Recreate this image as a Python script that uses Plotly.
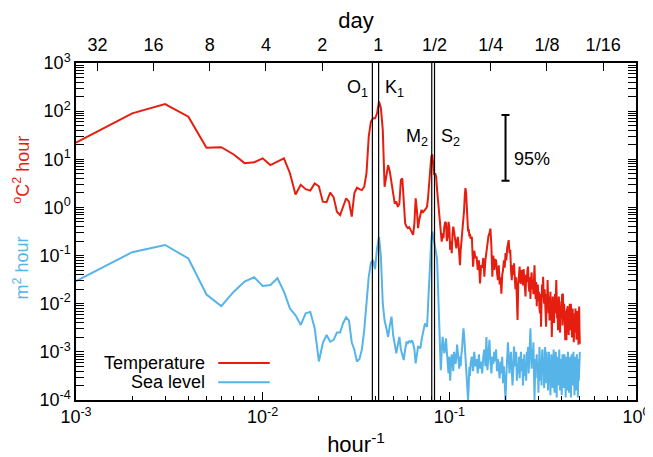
import math
import plotly.graph_objects as go

# ---------------- data ----------------
# frequency index k (cycles per 1000 hours): every index up to 130, then every other one
k_dense = list(range(1, 131))
k_sparse = list(range(132, 501, 2))
freq = [k / 1000 for k in k_dense + k_sparse]   # hour^-1

# log10 of temperature spectrum (degC^2 hour)
temp_log10 = [
    1.345, 1.955, 2.148, 1.885, 1.24, 1.25, 1.10, 0.92, 0.94, 1.02,
    0.88, 0.95, 1.02, 0.71, 0.27, 0.47, 0.38, 0.35, 0.50, 0.44,
    0.12, 0.11, 0.31, 0.21, -0.09, -0.16, 0.02, 0.19, 0.12, -0.19,
    0.30, 0.41, 0.38, 0.36, 0.43, 0.71, 1.47, 1.78, 1.85, 1.85,
    1.95, 2.20, 2.06, 1.61, 0.43, 0.71, 0.88, 0.74, 0.50, 0.29,
    0.08, 0.12, 0.01, 0.08, 0.57, 0.60, 0.05, -0.33, -0.40, -0.43,
    -0.41, -0.47, -0.54, -0.57, -0.33, 0.19, -0.05, -0.43, -0.26, -0.12,
    -0.05, -0.11, -0.09, -0.05, -0.02, 0.02, 0.22, 0.57, 0.78, 1.05,
    1.10, 0.81, 0.67, 0.71, 0.64, 0.36, 0.15, 0.05, -0.19, -0.47,
    -0.71, -0.54, -0.64, -0.40, -0.30, -0.33, -0.70, -0.61, -0.30, -0.40,
    -0.88, -0.70, -0.95, -0.55, -0.40, -0.50, -0.65, -0.80, -0.85, -0.70,
    -0.61, -0.75, -0.95, -1.20, -0.90, -0.72, -0.60, -0.55, -0.35, -0.05,
    0.25, 0.40, 0.30, 0.00, -0.30, -0.50, -0.45, -0.60, -0.55, -0.65,
    # k = 132 ... 500 step 2
    -0.61, -1.23, -0.90, -1.05, -1.02, -1.30, -1.10, -1.58, -1.20, -1.25,
    -1.05, -1.44, -1.10, -0.90, -0.75, -0.60, -0.54, -0.44, -0.80, -1.44,
    -1.00, -1.30, -1.09, -1.10, -1.35, -1.51, -1.20, -1.60, -1.45, -1.79,
    -1.40, -1.30, -1.10, -1.25, -0.95, -1.10, -0.85, -0.75, -0.68, -0.95,
    -0.88, -1.30, -1.51, -1.20, -1.40, -1.16, -1.35, -1.70, -1.45, -1.95,
    -2.34, -1.60, -1.40, -1.23, -1.55, -1.58, -1.30, -1.45, -1.62, -1.28,
    -1.50, -1.70, -1.85, -1.40, -1.55, -1.30, -1.23, -1.60, -1.75, -1.45,
    -1.90, -1.50, -1.35, -1.70, -1.55, -1.80, -1.40, -1.20, -1.65, -1.90,
    -1.55, -2.05, -1.70, -1.60, -1.95, -1.75, -2.10, -2.20, -1.80, -2.48,
    -1.90, -1.60, -1.75, -1.44, -1.85, -2.00, -1.70, -2.15, -1.95, -2.48,
    -1.80, -2.05, -1.51, -1.90, -2.20, -1.85, -2.35, -2.05, -1.75, -2.30,
    -2.10, -2.69, -2.00, -1.85, -2.25, -1.95, -2.40, -2.10, -1.80, -2.20,
    -1.70, -1.51, -1.90, -2.30, -2.00, -2.55, -2.15, -1.85, -2.40, -2.10,
    -2.60, -2.05, -2.30, -1.95, -2.20, -1.80, -2.45, -1.79, -2.10, -2.35,
    -2.00, -2.60, -2.25, -2.76, -2.15, -2.45, -2.76, -2.10, -2.35, -2.05,
    -2.50, -2.25, -2.65, -2.15, -2.40, -2.00, -2.55, -2.30, -2.00, -2.45,
    -2.20, -2.70, -2.35, -2.10, -2.55, -2.25, -2.80, -2.40, -2.69, -2.20,
    -2.50, -2.10, -2.60, -2.30, -2.75, -2.25, -2.50, -2.15, -2.65, -2.35,
    -2.85, -2.40, -2.06, -2.55, -2.83,
]

# log10 of sea-level spectrum (m^2 hour)
sea_log10 = [
    -1.53, -0.93, -0.78, -1.06, -1.81, -2.05, -1.75, -1.54, -1.45, -1.63,
    -1.61, -1.47, -1.75, -2.10, -2.24, -2.44, -2.20, -2.17, -2.51, -3.20,
    -2.82, -2.65, -2.79, -2.75, -2.60, -2.60, -2.40, -2.28, -2.35, -2.80,
    -2.96, -3.20, -3.15, -2.95, -2.55, -2.00, -1.44, -1.15, -1.09, -1.28,
    -0.85, -0.61, -1.02, -2.00, -2.35, -2.51, -2.69, -2.45, -2.27, -2.65,
    -2.90, -3.03, -2.85, -2.69, -2.95, -3.10, -3.17, -2.95, -2.79, -2.82,
    -2.78, -2.80, -2.76, -2.82, -2.95, -3.24, -3.00, -2.89, -2.90, -2.93,
    -2.75, -2.62, -2.50, -2.41, -2.45, -2.48, -2.00, -1.44, -0.95, -0.70,
    -0.50, -0.60, -0.75, -0.85, -0.95, -1.09, -1.80, -2.41, -3.00, -3.38,
    -3.00, -2.69, -2.85, -3.03, -2.90, -2.72, -3.00, -3.20, -3.45, -3.10,
    -3.60, -3.30, -3.05, -3.20, -3.40, -3.00, -3.15, -3.25, -3.10, -2.85,
    -3.00, -3.20, -3.35, -3.10, -3.30, -3.05, -2.95, -2.70, -2.51, -2.65,
    -2.89, -3.10, -3.30, -3.60, -3.85, -4.00, -3.70, -3.31, -3.50, -3.25,
    # k = 132 ... 500 step 2
    -3.10, -3.40, -3.00, -3.30, -3.15, -3.45, -3.05, -3.35, -3.20, -3.45,
    -3.10, -2.95, -3.30, -2.69, -3.38, -3.00, -2.75, -3.20, -3.45, -3.10,
    -3.25, -3.00, -3.20, -2.95, -3.40, -3.15, -3.30, -3.55, -3.20, -3.45,
    -3.10, -3.65, -3.30, -3.80, -4.00, -3.50, -3.20, -2.80, -3.10, -3.45,
    -3.15, -3.00, -3.35, -3.70, -3.40, -2.89, -3.15, -3.30, -3.00, -3.60,
    -3.25, -3.45, -3.10, -3.55, -3.20, -3.00, -3.40, -3.15, -3.70, -3.35,
    -3.05, -3.50, -3.25, -3.60, -3.00, -3.30, -2.90, -3.45, -3.10, -2.80,
    -2.51, -3.05, -3.35, -2.95, -3.20, -2.80, -3.50, -4.00, -3.40, -3.15,
    -3.30, -3.05, -3.55, -3.25, -3.85, -3.40, -2.90, -3.20, -3.60, -3.30,
    -3.70, -3.00, -2.95, -3.45, -3.25, -3.75, -3.10, -2.90, -3.35, -3.65,
    -3.00, -3.40, -3.15, -3.80, -3.30, -3.00, -3.55, -3.20, -3.90, -3.35,
    -3.05, -3.45, -3.10, -3.75, -3.30, -2.95, -3.40, -3.85, -3.25, -3.55,
    -3.00, -3.35, -3.95, -3.20, -3.50, -3.10, -3.70, -3.30, -2.95, -3.45,
    -3.80, -3.25, -3.55, -3.15, -3.90, -3.35, -3.05, -3.50, -3.20, -3.75,
    -3.40, -3.05, -3.60, -3.30, -3.95, -3.35, -3.10, -3.50, -3.80, -3.25,
    -3.00, -3.45, -3.15, -3.85, -3.30, -3.60, -3.10, -3.40, -3.95, -3.30,
    -3.05, -3.50, -3.20, -3.70, -3.35, -3.00, -3.55, -3.25, -3.90, -3.40,
    -3.10, -3.60, -3.30, -3.80, -3.35, -3.05, -3.50, -3.20, -3.95, -3.40,
    -3.15, -3.60, -3.25, -3.45, -3.00,
]

temp = [10 ** v for v in temp_log10]
sea = [10 ** v for v in sea_log10]

# tidal constituents (hour^-1)
tide_names = ["O<sub>1</sub>", "K<sub>1</sub>", "M<sub>2</sub>", "S<sub>2</sub>"]
tide_freq = [0.0387, 0.0418, 0.0805, 0.0833]

# top axis: periods in days
day_values = [32, 16, 8, 4, 2, 1, 0.5, 0.25, 0.125, 0.0625]
day_labels = ["32", "16", "8", "4", "2", "1", "1/2", "1/4", "1/8", "1/16"]

# axis decades
x_exps = [-3, -2, -1, 0]
y_exps = [-4, -3, -2, -1, 0, 1, 2, 3]

# 95% confidence bar
ci_freq = 0.2
ci_low, ci_high = 3.6, 83.0

RED = "#e51e10"
BLUE = "#56b4e9"
FONT = "Liberation Sans, Arial, sans-serif"
FS = 18

fig = go.Figure()

fig.add_trace(go.Scatter(x=freq, y=temp, mode="lines",
                         line=dict(color=RED, width=2), showlegend=False))
fig.add_trace(go.Scatter(x=freq, y=sea, mode="lines",
                         line=dict(color=BLUE, width=2), showlegend=False))

# vertical tidal lines (on the top x-axis, which shares the same range)
for f in tide_freq:
    fig.add_trace(go.Scatter(x=[f, f], y=[1e-4, 1e3], mode="lines", xaxis="x2",
                             line=dict(color="black", width=1.2), showlegend=False,
                             hoverinfo="skip"))

# 95% bar
ci_mid = (ci_low * ci_high) ** 0.5
fig.add_trace(go.Scatter(x=[ci_freq], y=[ci_mid], mode="markers",
                         marker=dict(size=0.1, color="black"), showlegend=False,
                         error_y=dict(type="data", symmetric=False,
                                      array=[ci_high - ci_mid],
                                      arrayminus=[ci_mid - ci_low],
                                      color="black", thickness=2, width=4)))

minor_vals = [m * 10 ** e for e in range(-4, 3) for m in range(2, 10)]
tickfont = dict(family=FONT, size=FS, color="black")

# page body has an 8px default margin: shrink the figure so the plot area lands
# where the reference has it
fig.update_layout(
    width=645, height=449,
    margin=dict(l=68, r=17, t=55, b=57, autoexpand=False),
    paper_bgcolor="white", plot_bgcolor="white",
    font=dict(family=FONT, size=FS, color="black"),
    xaxis=dict(type="log", range=[-3, 0], automargin=False,
               tickmode="array", tickvals=[10 ** e for e in x_exps],
               ticktext=["10<sup>%d</sup>" % e for e in x_exps], tickfont=tickfont,
               showgrid=False, zeroline=False,
               ticks="inside", ticklen=8, tickwidth=1.2, tickcolor="black",
               minor=dict(ticks="inside", ticklen=4, tickwidth=1, tickcolor="black",
                          tickmode="array", tickvals=minor_vals, showgrid=False),
               showline=True, linecolor="black", linewidth=1.5, mirror=True,
               title=dict(text="hour<sup>-1</sup>", standoff=14)),
    xaxis2=dict(type="log", range=[-3, 0], overlaying="x", side="top", automargin=False,
                tickmode="array", tickvals=[1 / (24 * d) for d in day_values],
                ticktext=day_labels, tickfont=tickfont, showgrid=False, zeroline=False,
                ticks="inside", ticklen=8, tickwidth=1.2, tickcolor="black",
                ticklabelstandoff=7,
                showline=False, title=dict(text="day", standoff=3)),
    yaxis=dict(type="log", range=[-4, 3], automargin=False,
               tickmode="array", tickvals=[10 ** e for e in y_exps],
               ticktext=["10<sup>%d</sup>" % e for e in y_exps], tickfont=tickfont,
               showgrid=False, zeroline=False,
               ticks="inside", ticklen=8, tickwidth=1.2, tickcolor="black",
               minor=dict(ticks="inside", ticklen=4, tickwidth=1, tickcolor="black",
                          tickmode="array", tickvals=minor_vals, showgrid=False),
               showline=True, linecolor="black", linewidth=1.5, mirror="allticks"),
)

ann = []
# tidal labels
ann.append(dict(x=math.log10(tide_freq[0]), y=0.925, xref="x", yref="paper",
                text=tide_names[0], showarrow=False, xanchor="right", yanchor="middle",
                xshift=-2))
ann.append(dict(x=math.log10(tide_freq[1]), y=0.925, xref="x", yref="paper",
                text=tide_names[1], showarrow=False, xanchor="left", yanchor="middle",
                xshift=4))
ann.append(dict(x=math.log10(tide_freq[2]), y=0.78, xref="x", yref="paper",
                text=tide_names[2], showarrow=False, xanchor="right", yanchor="middle",
                xshift=-2))
ann.append(dict(x=math.log10(tide_freq[3]), y=0.78, xref="x", yref="paper",
                text=tide_names[3], showarrow=False, xanchor="left", yanchor="middle",
                xshift=4))
# 95%
ann.append(dict(x=math.log10(ci_freq), y=math.log10(ci_mid), xref="x", yref="y",
                text="95%", showarrow=False, xanchor="left", yanchor="middle",
                xshift=6, yshift=-11))
# y titles
ann.append(dict(x=-0.097, y=0.682, xref="paper", yref="paper", textangle=-90,
                text="<sup>o</sup>C<sup>2</sup> hour", font=dict(color=RED),
                showarrow=False, xanchor="center", yanchor="middle"))
ann.append(dict(x=-0.097, y=0.392, xref="paper", yref="paper", textangle=-90,
                text="m<sup>2</sup> hour", font=dict(color=BLUE),
                showarrow=False, xanchor="center", yanchor="middle"))
# legend
ann.append(dict(x=0.234, y=0.110, xref="paper", yref="paper", text="Temperature",
                showarrow=False, xanchor="right", yanchor="middle"))
ann.append(dict(x=0.234, y=0.053, xref="paper", yref="paper", text="Sea level",
                showarrow=False, xanchor="right", yanchor="middle"))
fig.update_layout(annotations=ann)

fig.add_shape(type="line", xref="paper", yref="paper", x0=0.254, x1=0.346,
              y0=0.110, y1=0.110, line=dict(color=RED, width=2))
fig.add_shape(type="line", xref="paper", yref="paper", x0=0.254, x1=0.346,
              y0=0.053, y1=0.053, line=dict(color=BLUE, width=2))

fig.write_html("out.html")
